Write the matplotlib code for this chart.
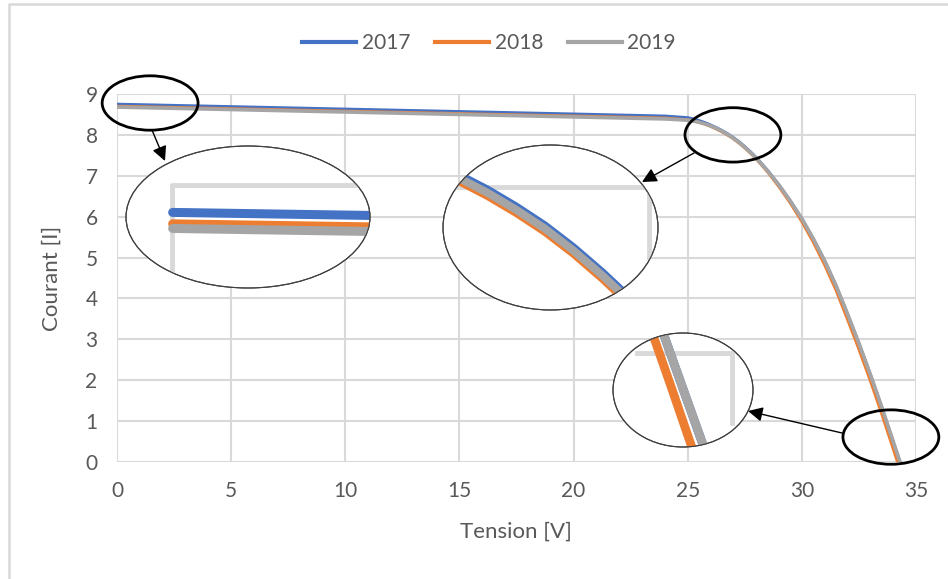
import matplotlib.pyplot as plt
from matplotlib.patches import Ellipse
from matplotlib.lines import Line2D

plt.rcParams['font.family'] = ['Lato', 'DejaVu Sans']

# tension [V] and courant [I]
tension = [0, 5, 10, 15, 20, 24, 25, 25.25, 25.5, 25.75, 26, 26.25, 26.5, 26.75, 27,
           27.25, 27.5, 27.75, 28, 28.5, 29, 29.5, 30, 30.5, 31, 31.5, 32, 32.5, 33,
           33.5, 34]
courant_2017 = [8.75, 8.69, 8.63, 8.57, 8.51, 8.46, 8.42, 8.388, 8.348, 8.299, 8.24,
                8.177, 8.106, 8.025, 7.935, 7.83, 7.712, 7.584, 7.445, 7.13, 6.775,
                6.38, 5.95, 5.46, 4.92, 4.31, 3.62, 2.90, 2.14, 1.34, 0.50]
courant_2018 = [8.70, 8.64, 8.58, 8.52, 8.46, 8.41, 8.37, 8.343, 8.308, 8.264, 8.21,
                8.147, 8.076, 7.995, 7.905, 7.80, 7.682, 7.554, 7.415, 7.095, 6.73,
                6.33, 5.88, 5.38, 4.82, 4.20, 3.49, 2.76, 1.99, 1.18, 0.33]
courant_2019 = [8.68, 8.62, 8.56, 8.50, 8.44, 8.39, 8.36, 8.338, 8.308, 8.269, 8.22,
                8.162, 8.091, 8.01, 7.92, 7.815, 7.697, 7.569, 7.43, 7.12, 6.77,
                6.38, 5.95, 5.46, 4.92, 4.31, 3.62, 2.90, 2.14, 1.34, 0.50]
voc = {'2017': 34.3, '2018': 34.19, '2019': 34.3}

series = {
    '2017': (tension + [voc['2017']], courant_2017 + [0]),
    '2018': (tension + [voc['2018']], courant_2018 + [0]),
    '2019': (tension + [voc['2019']], courant_2019 + [0]),
}
couleurs = {'2017': '#4472C4', '2018': '#ED7D31', '2019': '#A5A5A5'}
epaisseur = {'2017': 2.2, '2018': 2.2, '2019': 2.6}

W, H = 948, 579
fig = plt.figure(figsize=(W / 100, H / 100), dpi=100)


def box(x0, y0, x1, y1):
    # pixel box (top-left origin) -> figure fraction rect
    return [x0 / W, 1 - y1 / H, (x1 - x0) / W, (y1 - y0) / H]


ax = fig.add_axes(box(117, 94, 916, 462))
for annee in series:
    v, i = series[annee]
    ax.plot(v, i, color=couleurs[annee], lw=epaisseur[annee], label=annee,
            solid_capstyle='round', zorder=3)

ax.set_xlim(0, 35)
ax.set_ylim(0, 9)
ax.set_xticks(range(0, 36, 5))
ax.set_yticks(range(0, 10))
ax.grid(True, color='#D9D9D9', lw=1.5)
for s in ax.spines.values():
    s.set_visible(False)
ax.tick_params(length=0, pad=14, labelsize=15, labelcolor='#595959')

fig.text(516 / W, 1 - 532 / H, 'Tension [V]', ha='center', va='center',
         fontsize=16, color='#595959')
fig.text(52 / W, 1 - 278 / H, 'Courant [I]', ha='center', va='center',
         rotation=90, fontsize=16, color='#595959')

handles = [Line2D([], [], color=couleurs[a], lw=3) for a in series]
fig.legend(handles, list(series), loc='center', bbox_to_anchor=(489 / W, 1 - 43 / H),
           ncol=3, frameon=False, fontsize=15, handlelength=2.6, handletextpad=0.25,
           columnspacing=1.2, labelcolor='#595959')

# highlight ellipses on the main chart
for cx, cy in [(1.45, 8.78), (26.98, 8.0), (33.9, 0.61)]:
    ax.add_patch(Ellipse((cx, cy), 4.2, 1.33, fill=False, edgecolor='black',
                         lw=2.0, clip_on=False, zorder=6))


def loupe(rect, xlim, ylim, lw, coin):
    ins = fig.add_axes(box(*rect))
    ins.set_xlim(*xlim)
    ins.set_ylim(*ylim)
    ins.axis('off')
    fond = Ellipse((0.5, 0.5), 1, 1, transform=ins.transAxes, facecolor='white',
                   edgecolor='#404040', lw=0.8, zorder=1, clip_on=False)
    ins.add_patch(fond)
    g = ins.plot(coin[0], coin[1], color='#D9D9D9', lw=3.5,
                 transform=ins.transAxes, zorder=2)[0]
    g.set_clip_path(fond)
    for annee in series:
        v, i = series[annee]
        ln = ins.plot(v, i, color=couleurs[annee], lw=lw, solid_capstyle='round',
                      zorder=3)[0]
        ln.set_clip_path(fond)
    bord = Ellipse((0.5, 0.5), 1, 1, transform=ins.transAxes, fill=False,
                   edgecolor='#404040', lw=0.8, zorder=5, clip_on=False)
    ins.add_patch(bord)
    return ins


loupe((126, 146, 370, 288), (-0.26, 1.10), (8.42, 9.04), 6.5,
      ([0.189, 0.189, 1.0], [0.0, 0.725, 0.725]))
loupe((443, 145, 658, 310), (26.11, 27.99), (7.53, 8.32), 5.8,
      ([0.0, 0.958, 0.958], [0.745, 0.745, 0.32]))
loupe((613, 333, 753, 447), (33.47, 34.75), (0.0, 0.62), 6.3,
      ([0.171, 0.85, 0.85], [0.825, 0.825, 0.21]))

# overlay in pixel coordinates for arrows and the outer frame
top = fig.add_axes([0, 0, 1, 1])
top.set_xlim(0, W)
top.set_ylim(H, 0)
top.axis('off')
top.patch.set_alpha(0)
for (x0, y0), (x1, y1) in [((152, 130), (165, 161)), ((694, 153), (642, 182)),
                           ((842, 433), (748, 411))]:
    top.annotate('', xy=(x1, y1), xytext=(x0, y0),
                 arrowprops=dict(arrowstyle='-|>', color='black', lw=1,
                                 mutation_scale=22, shrinkA=0, shrinkB=0))
top.plot([9, 9, W], [H, 4, 4], color='#D9D9D9', lw=1.8)

plt.savefig('out.png', dpi=100)
